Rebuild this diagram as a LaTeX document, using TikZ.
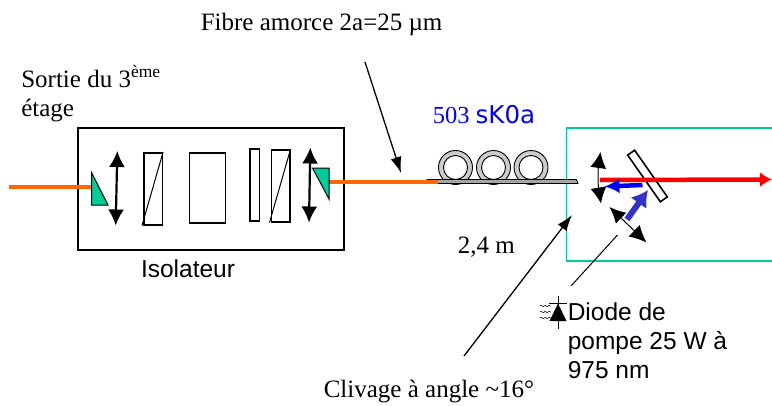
\documentclass[tikz,border=0pt]{standalone}
\usepackage{fontspec}
\setmainfont{Liberation Serif}
\setsansfont{Liberation Sans}
\newfontfamily\bluefont{DejaVu Sans}
\usetikzlibrary{arrows.meta,decorations.pathmorphing}
\definecolor{fibreorange}{RGB}{255,102,0}
\definecolor{tealgreen}{RGB}{0,204,153}
\definecolor{pumpblue}{RGB}{51,51,204}
\begin{document}
\begin{tikzpicture}[x=1pt, y=-1pt, line width=1.6pt, line join=miter]
    \tikzstyle{optic} = [draw, rectangle, inner sep=0pt, anchor=north west]
    \tikzstyle{lens} = [{Latex[length=16pt,width=16pt]}-{Latex[length=16pt,width=16pt]}, line width=2.2pt]
    \tikzstyle{note} = [-{Latex[length=16pt,width=11pt]}, line width=1.3pt]
    \tikzstyle{fibre} = [fibreorange, line width=4.5pt]
    \tikzstyle{prism} = [draw, line width=1pt, fill=tealgreen]
    \tikzstyle{coil} = [draw, circle, fill=black!20, line width=.9pt, minimum size=34pt, inner sep=0pt]
    \tikzstyle{coilhole} = [draw, circle, fill=white, line width=.9pt, minimum size=24pt, inner sep=0pt]
    \tikzstyle{serif} = [inner sep=0pt, font=\fontsize{25}{29}\selectfont, align=left]
    \tikzstyle{sans} = [inner sep=0pt, font=\sffamily\fontsize{24.5}{29}\selectfont, align=left]

    \useasboundingbox (0,0) rectangle (772,405);

    \node [optic, minimum width=266pt, minimum height=122pt] (isolator) at (77,127) {};
    \node [optic, minimum width=18.5pt, minimum height=72pt] (rotA) at (143,152) {};
    \node [optic, minimum width=36pt, minimum height=70pt] (faraday) at (188.5,152) {};
    \node [optic, minimum width=9.5pt, minimum height=72pt] (plate) at (249,148) {};
    \node [optic, minimum width=18.5pt, minimum height=72pt] (rotB) at (270.5,149) {};
    \node [optic, draw=tealgreen, line width=1.6pt, minimum width=230pt, minimum height=133pt] (box) at (565.5,127) {};
    \node [optic, minimum width=8.5pt, minimum height=57pt, rotate=35, anchor=center, fill=white] (mirror) at (647.5,176) {};

    \draw [line width=1pt] (rotA.south west) ++(-1,0) -- (rotA.north east);
    \draw [line width=1pt] (rotB.south west) ++(-1,0) -- (rotB.north east);

    \coordinate (inA) at (9,187);
    \coordinate (inB) at (92,187);
    \coordinate (outA) at (329,182);
    \coordinate (outB) at (438,182);
    \draw [fibre] (inA) -- (inB);

    % bobine
    \foreach \name/\x in {coilA/455.5, coilB/493.5, coilC/531} {
        \node [coil] (\name) at (\x,167.5) {};
        \node [coilhole] (\name hole) at (\x,167.5) {};
    }
    \draw [line width=.8pt, fill=black!35] (427,179.5) -- (576.5,179.5) -- (578,183.5) -- (426,183.5) -- cycle;
    \draw [fibre] (outA) -- (outB);

    \draw [prism] (91.5,172.5) -- (91.5,205) -- (108,205) -- cycle;
    \draw [lens] (117.3,151) -- (115.7,225.5);
    \draw [lens] (310.3,147.5) -- (309,222.5);
    \draw [prism] (312.5,168) -- (329,168) -- (329,199) -- cycle;

    \coordinate (lensA) at (600.5,152);
    \coordinate (lensB) at (601,203.5);
    \coordinate (redA) at (600,180);
    \coordinate (redB) at (772,179.5);
    \coordinate (sigA) at (642.5,185);
    \coordinate (sigB) at (604.5,186.5);
    \coordinate (pumpA) at (627,219.5);
    \coordinate (pumpB) at (648,190);
    \coordinate (collA) at (609.5,207);
    \coordinate (collB) at (646.5,242.5);

    \draw [{Latex[length=16pt,width=16pt]}-{Latex[length=16pt,width=16pt]}, line width=1pt] (lensA) .. controls (598,170) and (598,185) .. (lensB);
    \draw [-{Latex[length=12pt,width=15pt]}, red, line width=4.5pt] (redA) -- (redB);
    \draw [-{Latex[length=15pt,width=15pt]}, blue, line width=4.5pt] (sigA) -- (sigB);
    \draw [-{Latex[length=16pt,width=20pt]}, pumpblue, line width=6pt] (pumpA) -- (pumpB);
    \draw [{Latex[length=16pt,width=15pt]}-{Latex[length=17pt,width=16pt]}, line width=1pt] (collA) -- (collB);

    % textes
    \node [serif, anchor=base west] (title) at (200,30) {Fibre amorce 2a=25 µm};
    \node [serif, anchor=north west] (input) at (20.5,65) {Sortie du 3\textsuperscript{ème}\\étage};
    \node [sans, anchor=center] (isolabel) at (188,269) {Isolateur};
    \node [anchor=base west, inner sep=0pt, blue] (ref) at (432,123) {\fontsize{24.5}{29}\selectfont 503 {\bluefont sK0a}};
    \node [serif, anchor=base west] (length) at (457,253) {2,4 m};
    \node [serif, anchor=base west] (cleave) at (323,397) {Clivage à angle \textasciitilde16°};
    \node [sans, anchor=north west] (diode) at (567,302) {Diode de\\pompe 25 W à\\975 nm};

    % fleches de legende
    \coordinate (titleEnd) at (365,62);
    \coordinate (titleTip) at (401,173);
    \coordinate (cleaveEnd) at (464,356);
    \coordinate (cleaveTip) at (572,215);
    \coordinate (diodeEnd) at (571,286);
    \coordinate (diodeTop) at (617.5,235);
    \draw [note] (titleEnd) -- (titleTip);
    \draw [note] (cleaveEnd) -- (cleaveTip);
    \draw [line width=1pt] (diodeEnd) -- (diodeTop);

    % symbole diode
    \coordinate (diodeA) at (558,296);
    \coordinate (diodeB) at (558,329);
    \draw [line width=.8pt] (diodeA) -- (diodeB);
    \draw [line width=.8pt] (549,303.5) -- (567,303.5);
    \fill (558,303.5) -- (549.5,321) -- (566.5,321) -- cycle;
    \foreach \y in {306,312,318}
        \draw [line width=.5pt, decorate, decoration={snake, amplitude=.8pt, segment length=4pt}] (540,\y) -- (551,\y);
\end{tikzpicture}
\end{document}
